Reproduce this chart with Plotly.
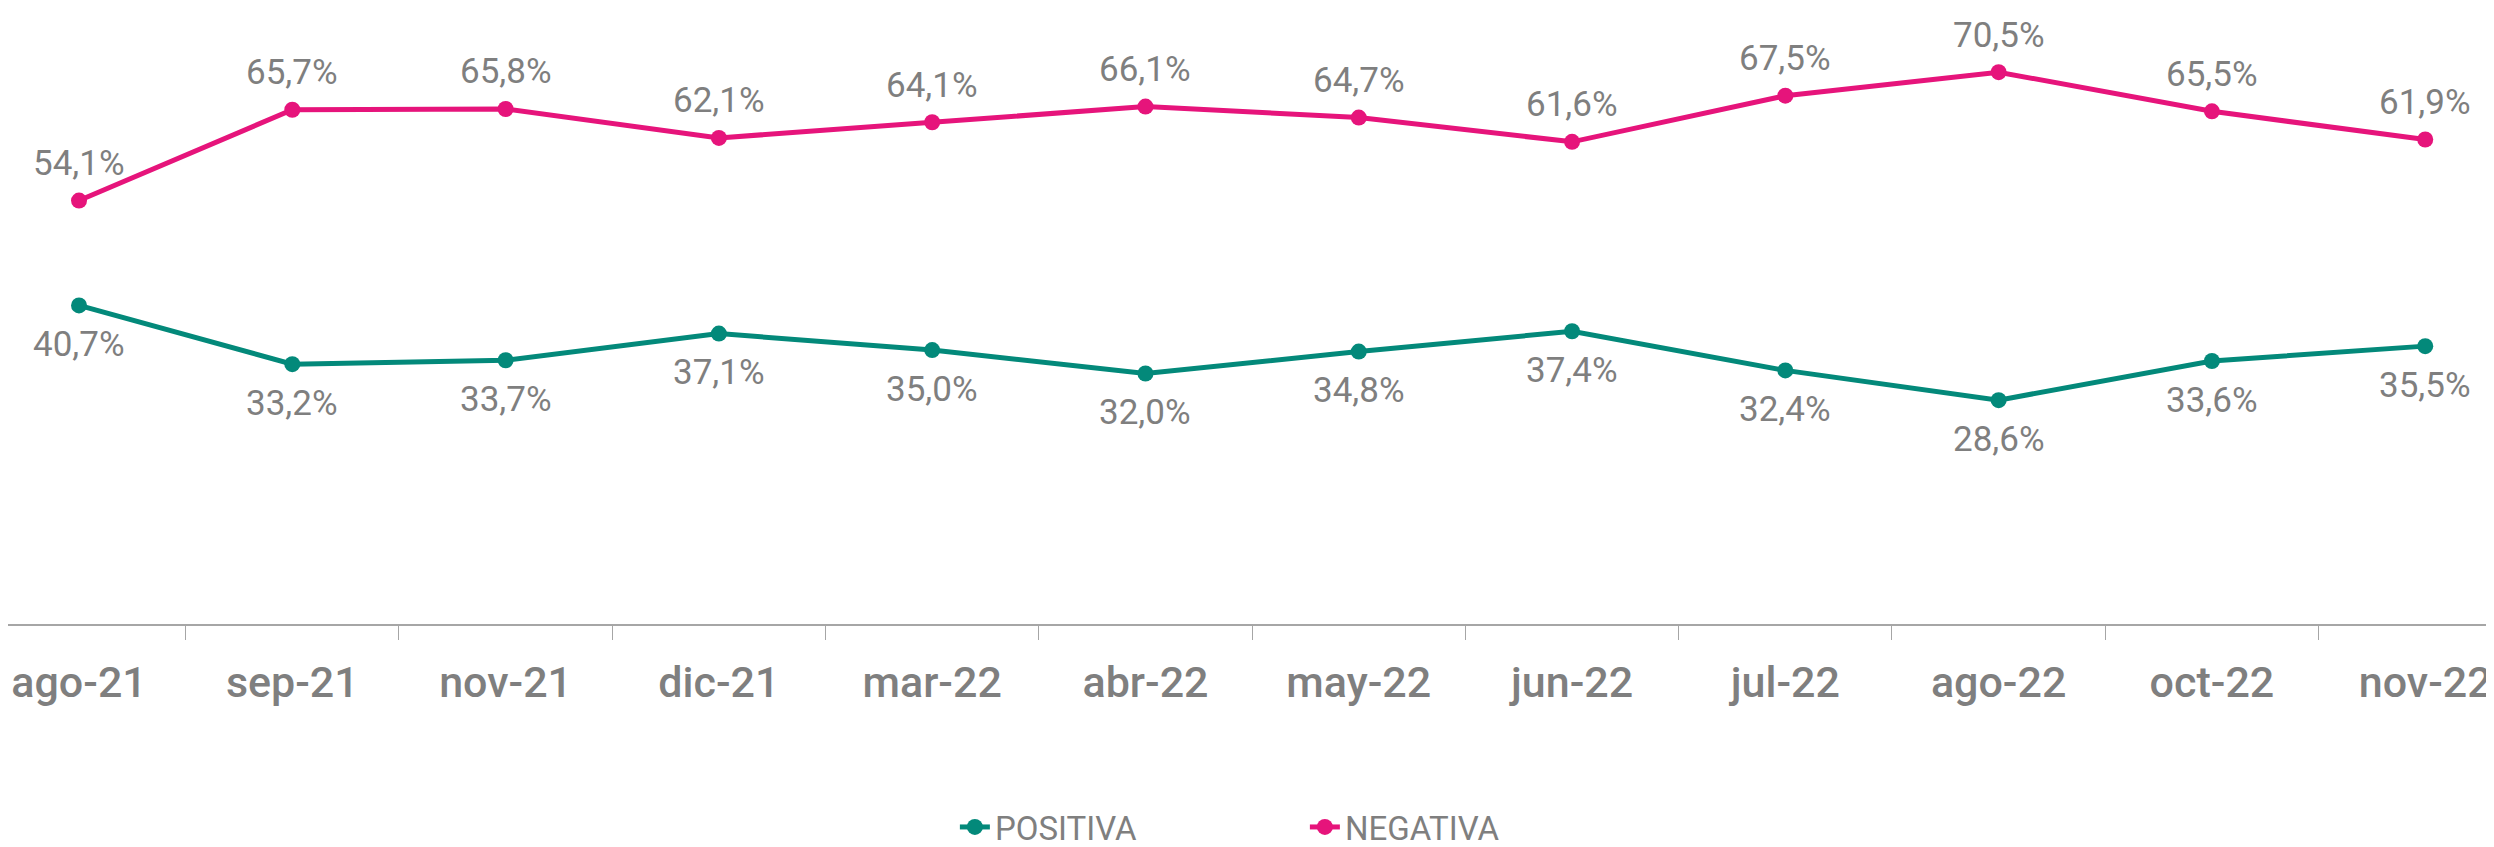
import plotly.graph_objects as go

# categories (month-year) and share values in %
meses = ["ago-21", "sep-21", "nov-21", "dic-21", "mar-22", "abr-22",
         "may-22", "jun-22", "jul-22", "ago-22", "oct-22", "nov-22"]
positiva = [40.7, 33.2, 33.7, 37.1, 35.0, 32.0, 34.8, 37.4, 32.4, 28.6, 33.6, 35.5]
negativa = [54.1, 65.7, 65.8, 62.1, 64.1, 66.1, 64.7, 61.6, 67.5, 70.5, 65.5, 61.9]

VERDE = "#03897A"
ROSA = "#E6147B"
GRIS = "#7F7F7F"
FONT = "Roboto, Open Sans, sans-serif"


def pct(v):
    return f"{v:.1f}".replace(".", ",") + "%"


fig = go.Figure()
fig.add_trace(go.Scatter(
    x=meses, y=positiva, name="POSITIVA", mode="lines+markers",
    line=dict(color=VERDE, width=5), marker=dict(size=16, color=VERDE),
))
fig.add_trace(go.Scatter(
    x=meses, y=negativa, name="NEGATIVA", mode="lines+markers",
    line=dict(color=ROSA, width=5), marker=dict(size=16, color=ROSA),
))

# data labels: negativa above the point, positiva below
for m, v in zip(meses, negativa):
    fig.add_annotation(x=m, y=v, text=pct(v), showarrow=False, yshift=37,
                       yanchor="middle", font=dict(family=FONT, size=35, color=GRIS))
for m, v in zip(meses, positiva):
    fig.add_annotation(x=m, y=v, text=pct(v), showarrow=False, yshift=-39,
                       yanchor="middle", font=dict(family=FONT, size=35, color=GRIS))

fig.update_xaxes(
    type="category", range=[-0.333, 11.36], showgrid=False,
    showline=True, linecolor="#A6A6A6", linewidth=1.5,
    ticks="outside", tickson="boundaries", ticklen=14, tickcolor="#A6A6A6", tickwidth=1,
    ticklabelstandoff=20,
    tickfont=dict(family=FONT, size=43, color=GRIS, weight=500),
)
fig.update_yaxes(range=[0, 78.7], visible=False, showgrid=False, zeroline=False)

fig.update_layout(
    width=2494, height=847,
    margin=dict(l=0, r=0, t=0, b=218),
    plot_bgcolor="white", paper_bgcolor="white",
    showlegend=True,
    legend=dict(orientation="h", x=0.52, xanchor="center", y=-0.33, yanchor="middle",
                font=dict(family=FONT, size=33, color=GRIS),
                entrywidth=305, entrywidthmode="pixels"),
)

fig.write_html("out.html")
